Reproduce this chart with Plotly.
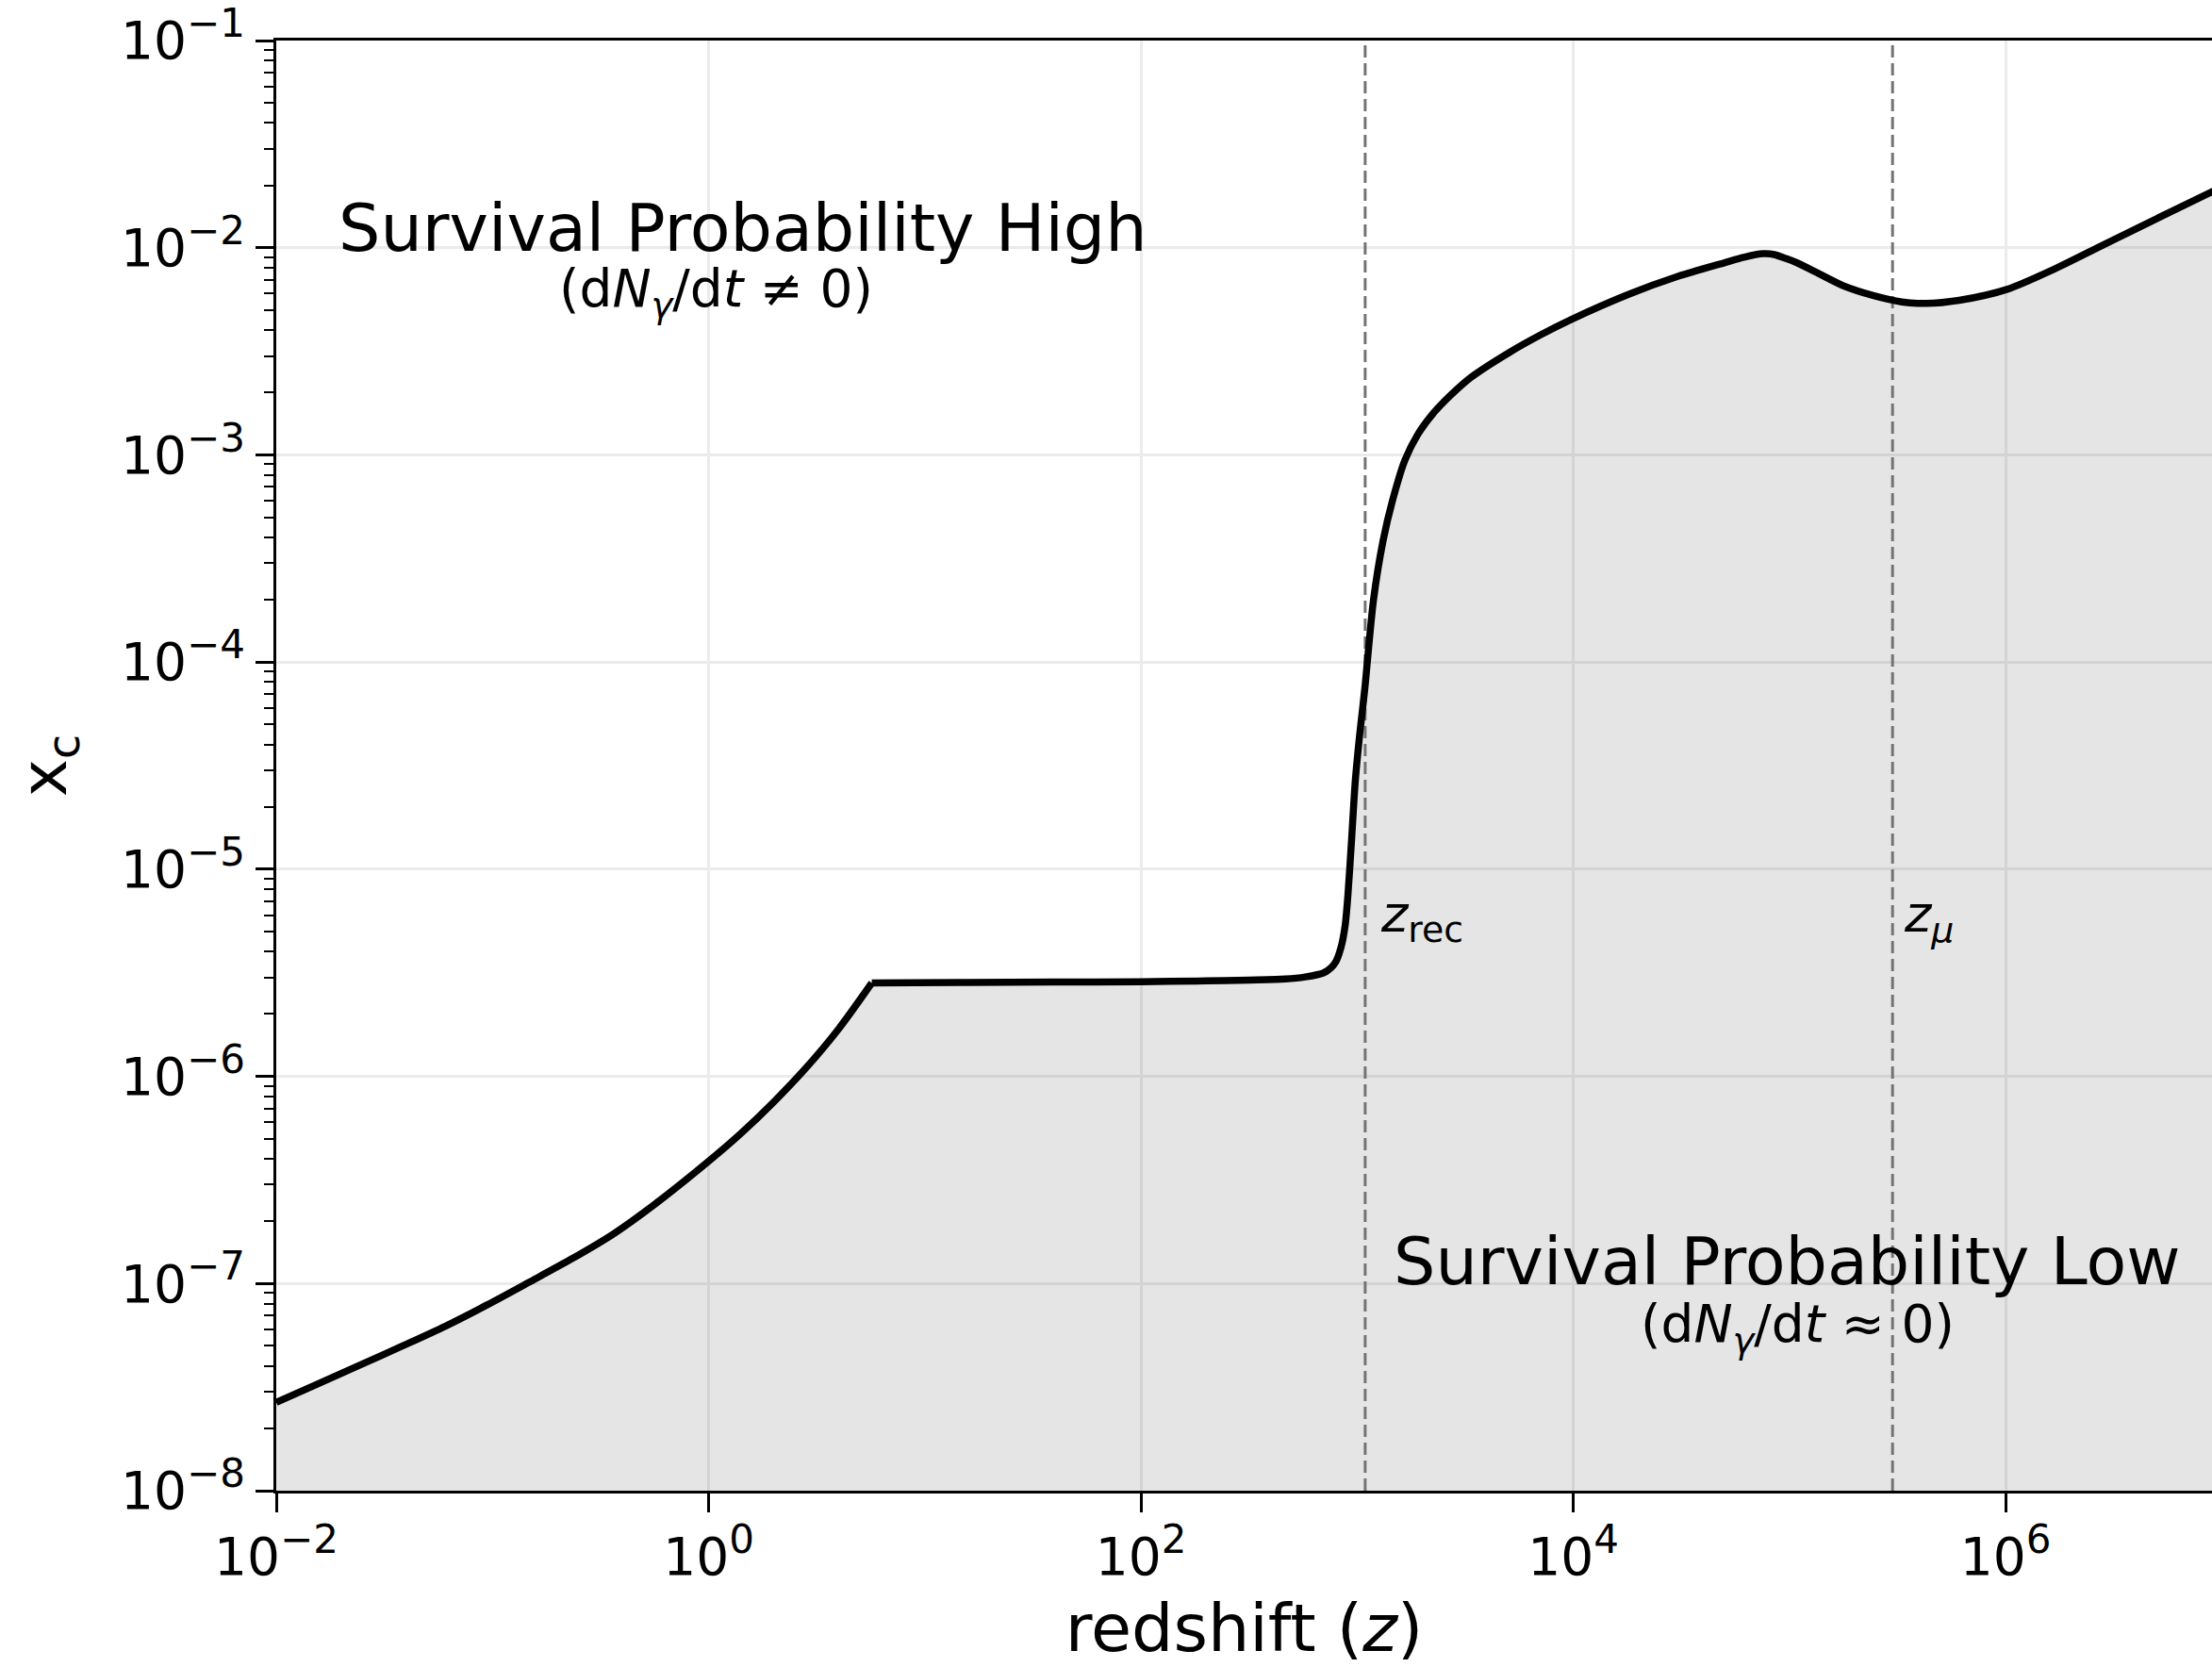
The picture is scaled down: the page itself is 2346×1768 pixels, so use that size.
import numpy as np
import plotly.graph_objects as go

# log10(redshift) and log10(x_c) sampled along the critical-frequency curve
log_z = [
    -2.000, -1.804, -1.609, -1.413, -1.218, -1.024, -0.829, -0.635, -0.441,
    -0.246, 0.000, 0.150, 0.300, 0.450, 0.600, 0.755,
    1.200, 1.600, 2.000, 2.300, 2.500, 2.669, 2.760, 2.846, 2.880, 2.902,
    2.925, 2.945, 2.958, 2.975, 2.992, 3.012, 3.035, 3.076, 3.120, 3.164,
    3.222, 3.280, 3.352, 3.430, 3.528, 3.705, 3.850, 3.993, 4.258, 4.479,
    4.701, 4.789, 4.878, 4.930, 4.989, 5.033, 5.121, 5.254, 5.387, 5.520, 5.631,
    5.785, 6.007, 6.228, 6.449, 6.671, 6.955, 7.000,
]
log_xc = [
    -7.574, -7.483, -7.392, -7.300, -7.206, -7.103, -6.993, -6.882, -6.761,
    -6.615, -6.410, -6.275, -6.125, -5.960, -5.773, -5.549,
    -5.547, -5.545, -5.543, -5.539, -5.535, -5.530, -5.520, -5.500, -5.475, -5.446,
    -5.380, -5.270, -5.120, -4.850, -4.570, -4.350, -4.136, -3.700, -3.416, -3.220,
    -3.024, -2.903, -2.800, -2.715, -2.625, -2.505, -2.420, -2.345, -2.224, -2.140,
    -2.072, -2.046, -2.029, -2.033, -2.054, -2.072, -2.117, -2.186, -2.231, -2.262, -2.269,
    -2.254, -2.201, -2.102, -1.988, -1.874, -1.730, -1.707,
]
# index of the sharp corner where the low-z branch meets the plateau
kink_index = 15

# characteristic epochs
z_rec = 1090
z_mu = 3.0e5

# axis ticks
x_decades = [-2, 0, 2, 4, 6]
y_decades = [-8, -7, -6, -5, -4, -3, -2, -1]
y_floor = 1e-8
y_ceiling = 1e-1

z = np.power(10.0, log_z)
xc = np.power(10.0, log_xc)

FONT = "DejaVu Sans"
TICK_SIZE = 55
SUP_SIZE = 42


def power_label(n):
    exp = str(n).replace("-", "\u2212")
    return ("10<sup><span style='font-size:%dpx'>%s</span></sup>" % (SUP_SIZE, exp))


segments = [slice(0, kink_index + 1), slice(kink_index, len(z))]

fig = go.Figure()

# shaded region below the curve (one band per smooth branch)
for seg in segments:
    zs, ys = z[seg], xc[seg]
    fig.add_trace(go.Scatter(x=zs, y=np.full(len(zs), y_floor), mode="lines",
                             line=dict(width=0, color="rgba(0,0,0,0)"),
                             showlegend=False, hoverinfo="skip"))
    fig.add_trace(go.Scatter(x=zs, y=ys, mode="lines", fill="tonexty",
                             fillcolor="rgba(0,0,0,0.10)",
                             line=dict(width=0, color="rgba(0,0,0,0)",
                                       shape="spline", smoothing=0.8),
                             showlegend=False, hoverinfo="skip"))

# dashed markers for recombination and the mu-era boundary
for zv in (z_rec, z_mu):
    fig.add_trace(go.Scatter(x=[zv, zv], y=[y_floor, y_ceiling], mode="lines",
                             line=dict(color="#737373", width=3, dash="13px,6px"),
                             showlegend=False, hoverinfo="skip"))

# the x_c(z) curve
for seg in segments:
    fig.add_trace(go.Scatter(x=z[seg], y=xc[seg], mode="lines",
                             line=dict(color="black", width=7.5,
                                       shape="spline", smoothing=0.8),
                             showlegend=False))

minor_y = [k * 10.0 ** d for d in y_decades[:-1] for k in range(2, 10)]

fig.update_xaxes(
    type="log", range=[-2, 6.955],
    tickmode="array", tickvals=[10.0 ** d for d in x_decades],
    ticktext=[power_label(d) for d in x_decades],
    ticks="outside", ticklen=20, tickwidth=3, tickcolor="black",
    showline=True, linewidth=3, linecolor="black", mirror=True,
    showgrid=True, gridcolor="#ebebeb", gridwidth=2.5, zeroline=False,
    tickfont=dict(family=FONT, size=TICK_SIZE, color="black"),
    title=dict(text="redshift (<i>z</i>)", font=dict(family=FONT, size=70, color="black"),
               standoff=46),
)
fig.update_yaxes(
    type="log", range=[-8, -1],
    tickmode="array", tickvals=[10.0 ** d for d in y_decades],
    ticktext=[power_label(d) for d in y_decades],
    ticks="outside", ticklen=19, tickwidth=3, tickcolor="black",
    minor=dict(tickmode="array", tickvals=minor_y, ticks="outside", ticklen=10,
               tickwidth=2, tickcolor="black", showgrid=False),
    showline=True, linewidth=3, linecolor="black", mirror=False,
    showgrid=True, gridcolor="#ebebeb", gridwidth=2.5, zeroline=False,
    tickfont=dict(family=FONT, size=TICK_SIZE, color="black"),
    title=dict(text="x<sub>c</sub>", font=dict(family=FONT, size=68, color="black"),
               standoff=36),
)

text_font = dict(family=FONT, color="black")
fig.add_annotation(x=0.160, y=-1.905, xref="x", yref="y", text="Survival Probability High",
                   showarrow=False, xanchor="center", yanchor="middle",
                   font=dict(size=70, **text_font))
fig.add_annotation(x=0.034, y=-2.215, xref="x", yref="y",
                   text="(d<i>N</i><sub><i>\u03b3</i></sub>/d<i>t</i> \u2260 0)",
                   showarrow=False, xanchor="center", yanchor="middle",
                   font=dict(size=55, **text_font))
fig.add_annotation(x=4.989, y=-6.894, xref="x", yref="y", text="Survival Probability Low",
                   showarrow=False, xanchor="center", yanchor="middle",
                   font=dict(size=70, **text_font))
fig.add_annotation(x=5.036, y=-7.213, xref="x", yref="y",
                   text="(d<i>N</i><sub><i>\u03b3</i></sub>/d<i>t</i> \u2248 0)",
                   showarrow=False, xanchor="center", yanchor="middle",
                   font=dict(size=55, **text_font))
fig.add_annotation(x=np.log10(z_rec), y=-5.233, xref="x", yref="y",
                   text="<i>z</i><sub>rec</sub>", showarrow=False,
                   xanchor="left", yanchor="middle", xshift=14,
                   font=dict(size=54, **text_font))
fig.add_annotation(x=np.log10(z_mu), y=-5.233, xref="x", yref="y",
                   text="<i>z</i><sub><i>\u03bc</i></sub>", showarrow=False,
                   xanchor="left", yanchor="middle", xshift=10,
                   font=dict(size=54, **text_font))

fig.update_layout(
    width=2346, height=1768,
    margin=dict(l=293, r=0, t=43, b=187, autoexpand=False),
    paper_bgcolor="white", plot_bgcolor="white",
    font=dict(family=FONT, color="black"),
    showlegend=False,
)

fig.write_html("out.html")
